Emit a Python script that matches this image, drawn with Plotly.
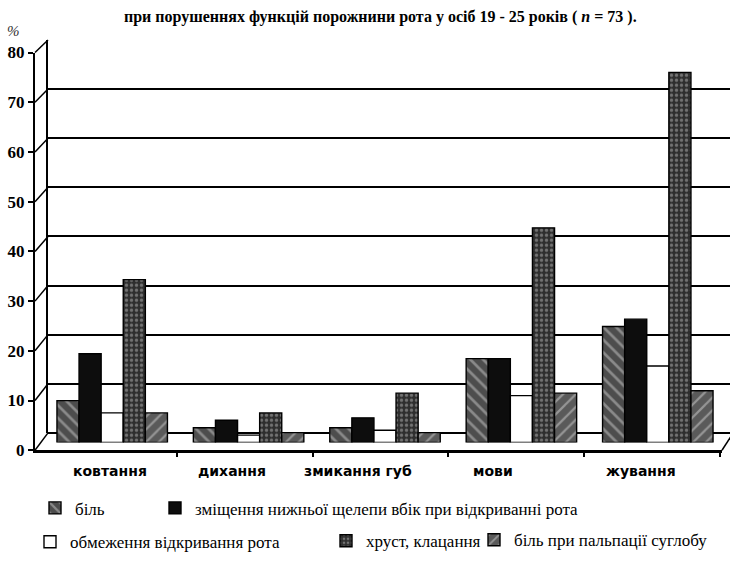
import plotly.graph_objects as go

# ---- data -------------------------------------------------------------
categories = ["ковтання", "дихання", "змикання губ", "мови", "жування"]

pain = [8.5, 3.0, 3.0, 17.0, 23.5]            # біль
jaw_shift = [18.0, 4.5, 5.0, 17.0, 25.0]      # зміщення нижньої щелепи вбік
opening_limit = [6.0, 1.5, 2.5, 9.5, 15.5]    # обмеження відкривання рота
clicking = [33.0, 6.0, 10.0, 43.5, 75.0]      # хруст, клацання
palpation_pain = [6.0, 2.0, 2.0, 10.0, 10.5]  # біль при пальпації суглобу

series_names = [
    "біль",
    "зміщення нижньої щелепи вбік при відкриванні рота",
    "обмеження відкривання рота",
    "хруст, клацання",
    "біль при пальпації суглобу",
]
y_ticks = [0, 10, 20, 30, 40, 50, 60, 70, 80]

# ---- geometry helpers (pixel -> paper) --------------------------------
W, H = 730, 588


def fx(px):
    return px / W


def fy(py):
    return 1 - py / H


SERIF = "Liberation Serif"
SANS = "DejaVu Sans"

# front (tick) plane, back wall and bar plane in pixels
FRONT_X, FRONT_Y0, FRONT_Y80 = 35, 456, 45
BACK_X, BACK_Y0, BACK_Y80 = 48, 438, 32
BAR_Y0, BAR_Y80 = 448, 40

fig = go.Figure()

# back wall with horizontal grid (first subplot, drawn underneath)
fig.add_trace(go.Scatter(x=[0], y=[0], mode="markers", opacity=0,
                         showlegend=False, hoverinfo="skip",
                         xaxis="x", yaxis="y"))

styles = [
    dict(color="#4d4d4d", pattern=dict(shape="\\", fgcolor="#c8c8c8",
                                       bgcolor="#4d4d4d", size=9, solidity=0.3)),
    dict(color="#0d0d0d"),
    dict(color="#ffffff"),
    dict(color="#2e2e2e", pattern=dict(shape=".", fgcolor="#b5b5b5",
                                       bgcolor="#2e2e2e", size=5, solidity=0.35)),
    dict(color="#5a5a5a", pattern=dict(shape="/", fgcolor="#cfcfcf",
                                       bgcolor="#5a5a5a", size=9, solidity=0.25)),
]
values = [pain, jaw_shift, opening_limit, clicking, palpation_pain]
legend_ids = ["legend", "legend2", "legend3", "legend4", "legend5"]

for name, vals, st, lg in zip(series_names, values, styles, legend_ids):
    marker = dict(st)
    marker["line"] = dict(color="black", width=1.4)
    fig.add_trace(go.Bar(x=categories, y=vals, name=name, marker=marker,
                         xaxis="x2", yaxis="y2", legend=lg))

# front axis carrying the tick labels
fig.add_trace(go.Scatter(x=[0], y=[0], mode="markers", opacity=0,
                         showlegend=False, hoverinfo="skip",
                         xaxis="x3", yaxis="y3"))

shapes = []
# side-wall diagonals joining front ticks to the back-wall grid
for v in y_ticks:
    yf = FRONT_Y0 - v * (FRONT_Y0 - FRONT_Y80) / 80
    yb = BACK_Y0 - v * (BACK_Y0 - BACK_Y80) / 80
    shapes.append(dict(type="line", xref="paper", yref="paper",
                       x0=fx(FRONT_X), y0=fy(yf), x1=fx(BACK_X), y1=fy(yb),
                       line=dict(color="black", width=1.5)))
# right edge of the floor
shapes.append(dict(type="line", xref="paper", yref="paper",
                   x0=fx(722), y0=fy(FRONT_Y0), x1=fx(732), y1=fy(BACK_Y0 + 2),
                   line=dict(color="black", width=1.5)))

# category labels and captions
LABEL_X = [110, 232, 358, 493, 641]
annotations = [
    dict(text="<b>" + c + "</b>", x=fx(lx), y=fy(477), xref="paper",
         yref="paper", showarrow=False, xanchor="center", yanchor="middle",
         font=dict(family=SANS, size=14, color="black"))
    for c, lx in zip(categories, LABEL_X)
]
annotations += [
    dict(text="<b>при порушеннях функцій порожнини рота у осіб 19 - 25 років ( <i>n</i> = 73 ).</b>",
         x=fx(380), y=fy(8), xref="paper", yref="paper", showarrow=False,
         xanchor="center", yanchor="middle",
         font=dict(family=SERIF, size=16, color="black")),
    dict(text="<i>%</i>", x=fx(13), y=fy(23), xref="paper", yref="paper",
         showarrow=False, xanchor="center", yanchor="middle",
         font=dict(family=SERIF, size=15, color="#333333")),
]

hidden = dict(visible=False, fixedrange=True)


def legend_at(text_x, y_center):
    return dict(x=fx(text_x - 40), y=fy(y_center), xanchor="left",
                yanchor="middle", bgcolor="rgba(0,0,0,0)", borderwidth=0,
                font=dict(family=SERIF, size=17, color="black"))


fig.update_layout(
    width=W, height=H, autosize=False,
    margin=dict(l=0, r=0, t=0, b=0),
    paper_bgcolor="white", plot_bgcolor="rgba(0,0,0,0)",
    barmode="group", bargap=0.19, bargroupgap=0,
    showlegend=True,
    xaxis=dict(domain=[fx(BACK_X), 1], range=[0, 1], visible=False,
               fixedrange=True, anchor="y"),
    yaxis=dict(domain=[fy(BACK_Y0), fy(BACK_Y80)], range=[0, 80],
               anchor="x", dtick=10, showgrid=True, gridcolor="black",
               gridwidth=2, zeroline=True, zerolinecolor="black",
               zerolinewidth=1.5, showline=True, linecolor="black",
               linewidth=2, showticklabels=False, ticks="", fixedrange=True),
    xaxis2=dict(domain=[fx(44), fx(726)], anchor="y2", visible=False,
                fixedrange=True, type="category"),
    yaxis2=dict(domain=[fy(BAR_Y0), fy(BAR_Y80)], range=[0, 80],
                anchor="x2", **hidden),
    xaxis3=dict(domain=[fx(FRONT_X), fx(722)], range=[-0.544, 4.515],
                anchor="y3", showline=True, linecolor="black", linewidth=2.5,
                showgrid=False, zeroline=False, tickvals=[0.5, 1.5, 2.5, 3.5, 4.5],
                ticks="outside", ticklen=4, tickwidth=1.5, tickcolor="black",
                showticklabels=False, fixedrange=True),
    yaxis3=dict(domain=[fy(FRONT_Y0), fy(FRONT_Y80)], range=[0, 80],
                anchor="x3", tickvals=y_ticks, ticks="outside", ticklen=5,
                tickwidth=1.5, tickcolor="black", showline=True,
                linecolor="black", linewidth=2, showgrid=False, zeroline=False,
                tickfont=dict(family=SERIF, size=17, color="black",
                              weight="bold"),
                ticklabelstandoff=0, fixedrange=True),
    legend=legend_at(75, 516),
    legend2=legend_at(195, 516),
    legend3=legend_at(70, 551),
    legend4=legend_at(366, 550),
    legend5=legend_at(514, 549),
    shapes=shapes,
    annotations=annotations,
)

fig.write_html("out.html")
